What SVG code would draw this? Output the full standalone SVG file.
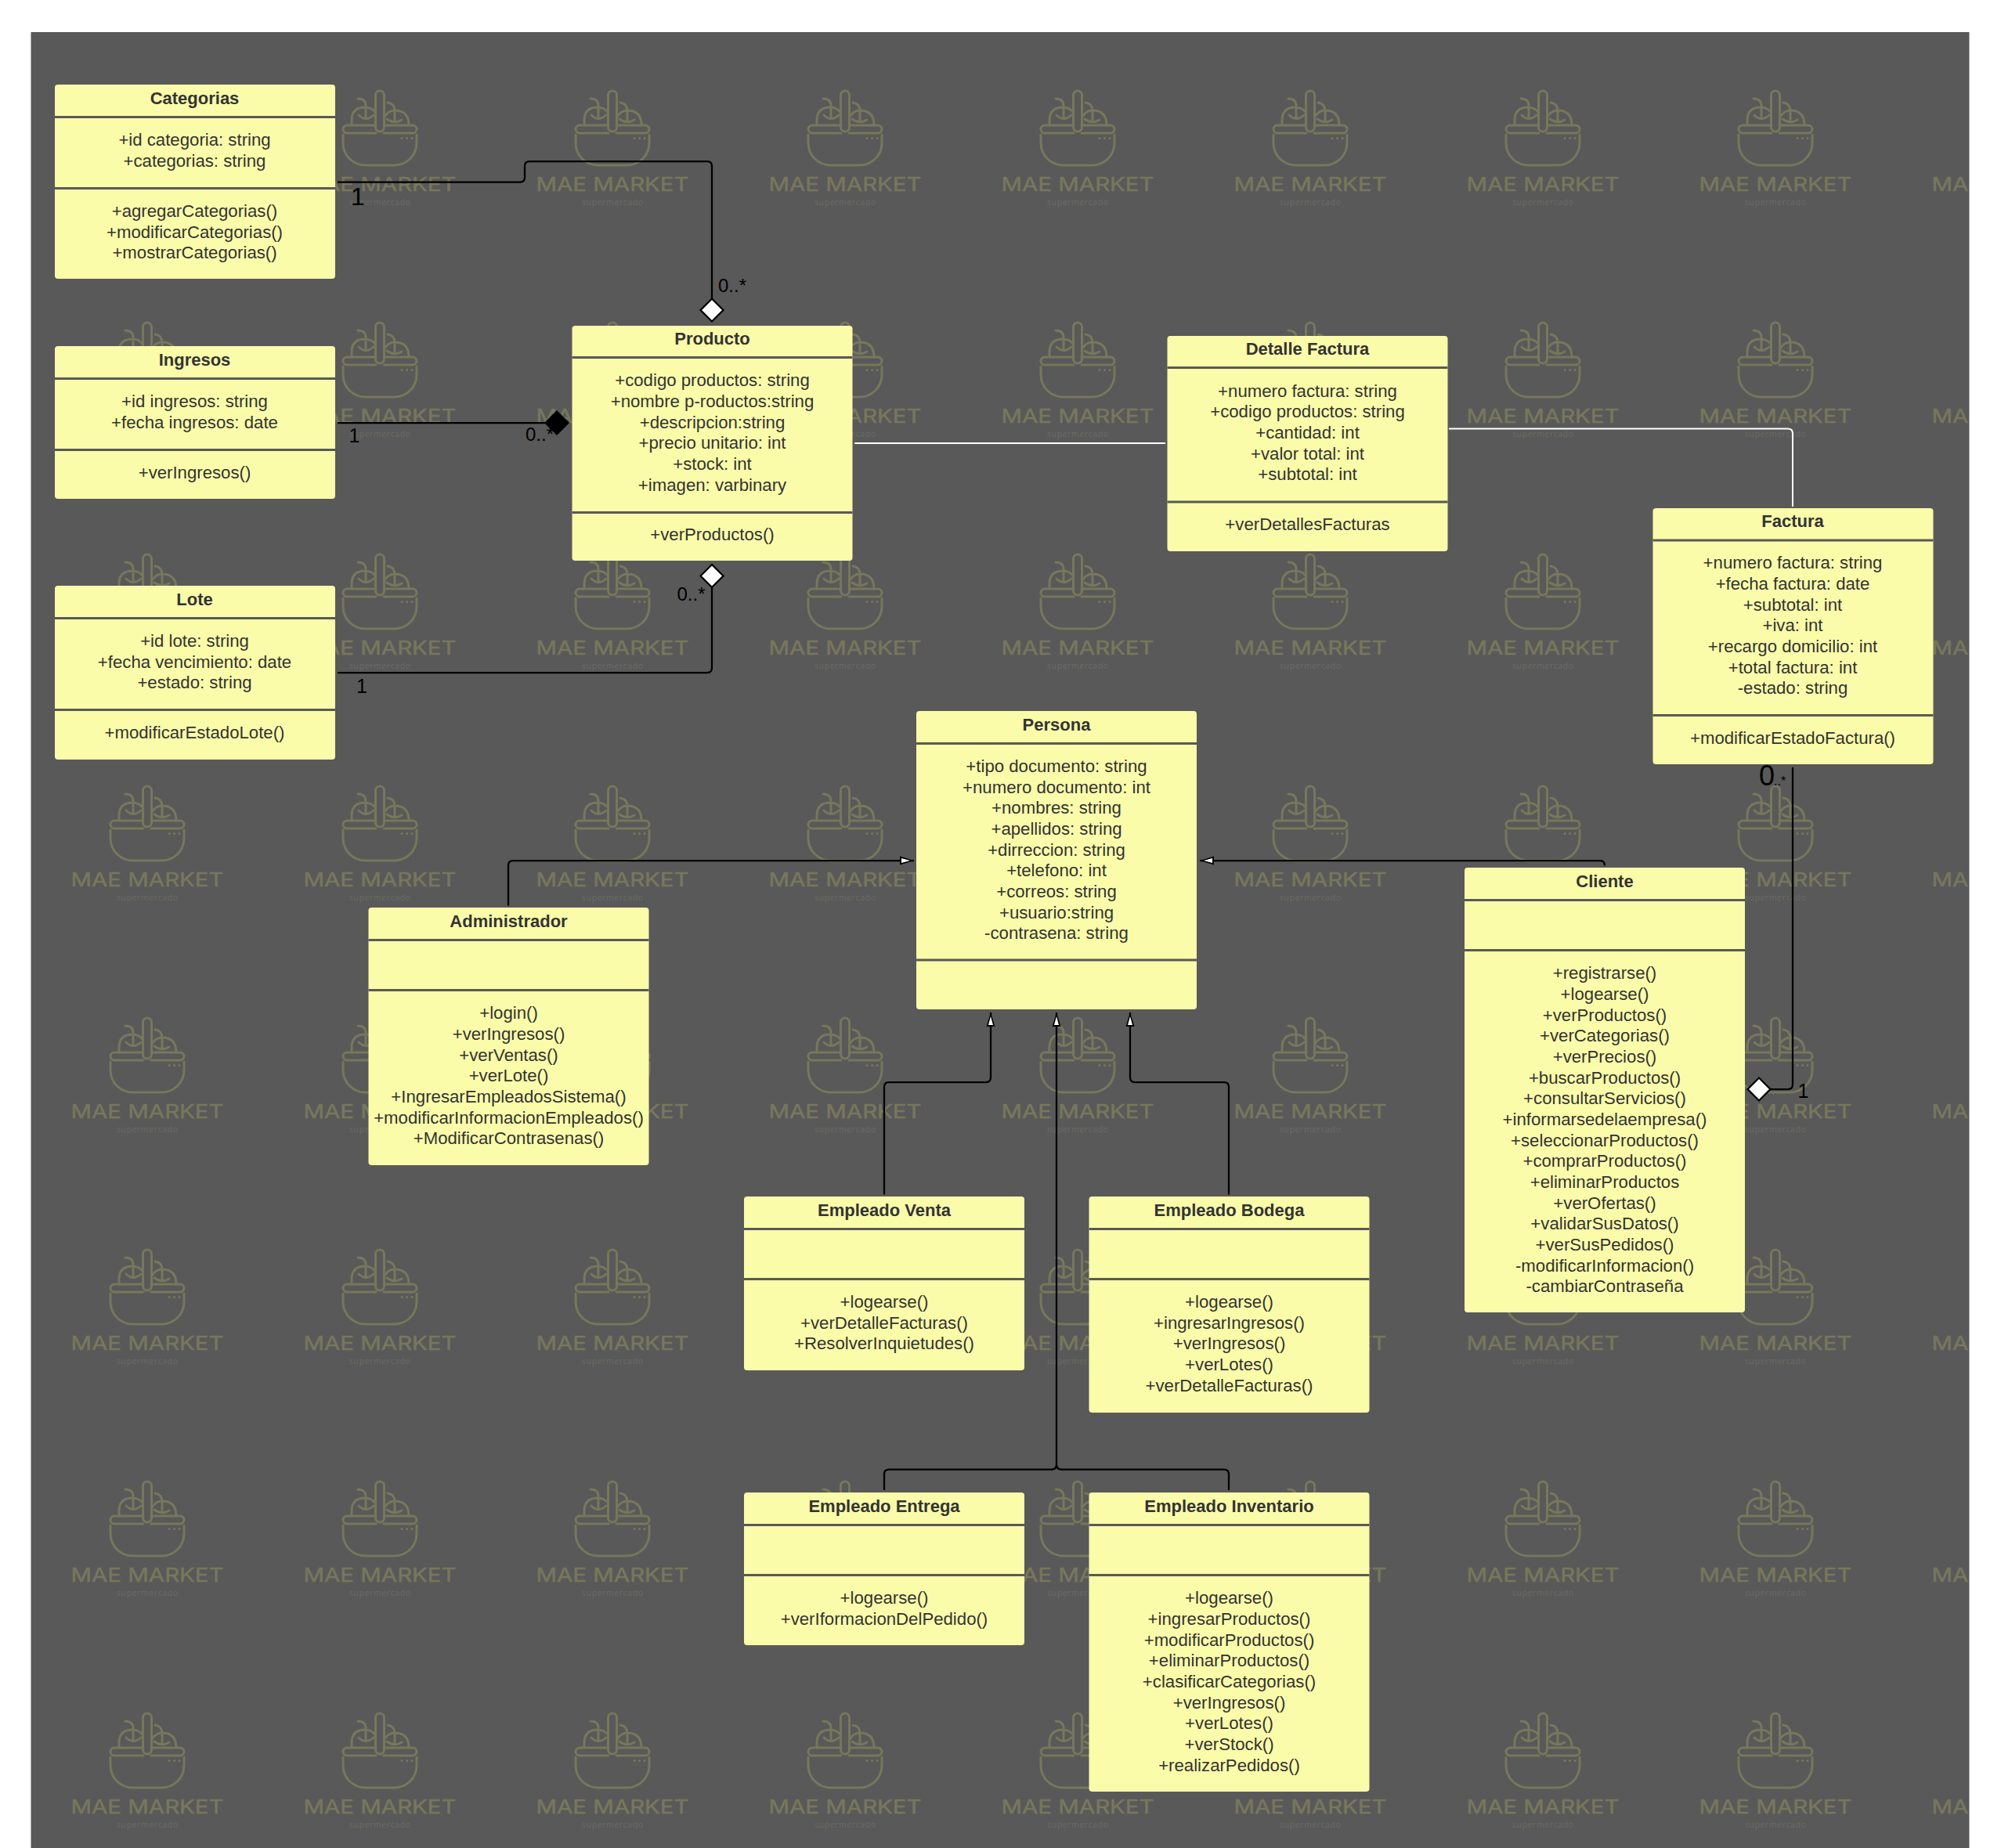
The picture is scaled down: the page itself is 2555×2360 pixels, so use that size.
<svg xmlns="http://www.w3.org/2000/svg" width="2555" height="2360" viewBox="0 0 2555 2360">
<style>
text{font-family:"Liberation Sans",Arial,sans-serif}
.b{fill:#fafca9;stroke:none}
.d{stroke:#595959;stroke-width:3;fill:none}
.t{font-size:22px;font-weight:bold;fill:#333;text-anchor:middle}
.a{font-size:22.2px;fill:#333;text-anchor:middle}
.c{fill:none;stroke:#000;stroke-width:2.25;stroke-linejoin:round}
.o{fill:#fff;stroke:#000;stroke-width:2.25}
.w{fill:none;stroke:#fff;stroke-width:2}
.l{fill:#000}
.wm{fill:none;stroke:#77775c;stroke-width:3;stroke-linecap:round;stroke-linejoin:round}
.wt{font-family:Inter,"Liberation Sans",sans-serif;font-size:24px;fill:#77775c;stroke:#77775c;stroke-width:.5;text-anchor:middle}
.ws{font-family:"Open Sans","Liberation Sans",sans-serif;font-size:10.5px;fill:#6b6b64;text-anchor:middle}
</style>
<defs>
<clipPath id="pc"><rect x="39.5" y="41" width="2475" height="2319"/></clipPath>
<g id="mark">
<rect class="wm" x="-5.500" y="0" width="11" height="52" rx="5.500"/>
<path class="wm" d="M-5 44H-42a5 5 0 0 0 0 10H-5M5 44H42a5 5 0 0 1 0 10H5"/>
<path class="wm" d="M-47 56V66C-47 84-33 95-18 95H18C33 95 47 84 47 66V56"/>
<path class="wm" d="M-36 44V38Q-36 21-19 21Q-11 21-6 27M-28 10Q-18 10-18 19V34M-27 31Q-18 40-8 31"/>
<path class="wm" d="M6 33Q11 25 19 25Q37 25 37 44M10 15Q19 16 19 26V39M9 36Q18 43 28 37"/>
<path class="wm" d="M28 60.500h.1M34.500 60.500h.1M41 60.500h.1"/>
<text class="wt" x="0" y="128" textLength="195" lengthAdjust="spacingAndGlyphs">MAE MARKET</text>
<text class="ws" x="0" y="145.500" textLength="78" lengthAdjust="spacing">supermercado</text>
</g>
<marker id="tri" markerUnits="userSpaceOnUse" markerWidth="18" markerHeight="14" refX="18" refY="7" orient="auto" viewBox="0 0 18 14"><path d="M0 1.500L18 7L0 12.500Z" fill="#000"/><path d="M2 4L13 7L2 10Z" fill="#fff"/></marker>
</defs>
<rect x="0" y="0" width="2555" height="2360" fill="#fff"/>
<rect x="39.500" y="41" width="2475" height="2319" fill="#595959"/>
<g id="watermarks" clip-path="url(#pc)">
<use href="#mark" x="188" y="116"/><use href="#mark" x="485" y="116"/><use href="#mark" x="782" y="116"/><use href="#mark" x="1079" y="116"/><use href="#mark" x="1376" y="116"/><use href="#mark" x="1673" y="116"/><use href="#mark" x="1970" y="116"/><use href="#mark" x="2267" y="116"/><use href="#mark" x="2564" y="116"/>
<use href="#mark" x="188" y="412"/><use href="#mark" x="485" y="412"/><use href="#mark" x="782" y="412"/><use href="#mark" x="1079" y="412"/><use href="#mark" x="1376" y="412"/><use href="#mark" x="1673" y="412"/><use href="#mark" x="1970" y="412"/><use href="#mark" x="2267" y="412"/><use href="#mark" x="2564" y="412"/>
<use href="#mark" x="188" y="708"/><use href="#mark" x="485" y="708"/><use href="#mark" x="782" y="708"/><use href="#mark" x="1079" y="708"/><use href="#mark" x="1376" y="708"/><use href="#mark" x="1673" y="708"/><use href="#mark" x="1970" y="708"/><use href="#mark" x="2267" y="708"/><use href="#mark" x="2564" y="708"/>
<use href="#mark" x="188" y="1004"/><use href="#mark" x="485" y="1004"/><use href="#mark" x="782" y="1004"/><use href="#mark" x="1079" y="1004"/><use href="#mark" x="1376" y="1004"/><use href="#mark" x="1673" y="1004"/><use href="#mark" x="1970" y="1004"/><use href="#mark" x="2267" y="1004"/><use href="#mark" x="2564" y="1004"/>
<use href="#mark" x="188" y="1300"/><use href="#mark" x="485" y="1300"/><use href="#mark" x="782" y="1300"/><use href="#mark" x="1079" y="1300"/><use href="#mark" x="1376" y="1300"/><use href="#mark" x="1673" y="1300"/><use href="#mark" x="1970" y="1300"/><use href="#mark" x="2267" y="1300"/><use href="#mark" x="2564" y="1300"/>
<use href="#mark" x="188" y="1596"/><use href="#mark" x="485" y="1596"/><use href="#mark" x="782" y="1596"/><use href="#mark" x="1079" y="1596"/><use href="#mark" x="1376" y="1596"/><use href="#mark" x="1673" y="1596"/><use href="#mark" x="1970" y="1596"/><use href="#mark" x="2267" y="1596"/><use href="#mark" x="2564" y="1596"/>
<use href="#mark" x="188" y="1892"/><use href="#mark" x="485" y="1892"/><use href="#mark" x="782" y="1892"/><use href="#mark" x="1079" y="1892"/><use href="#mark" x="1376" y="1892"/><use href="#mark" x="1673" y="1892"/><use href="#mark" x="1970" y="1892"/><use href="#mark" x="2267" y="1892"/><use href="#mark" x="2564" y="1892"/>
<use href="#mark" x="188" y="2188"/><use href="#mark" x="485" y="2188"/><use href="#mark" x="782" y="2188"/><use href="#mark" x="1079" y="2188"/><use href="#mark" x="1376" y="2188"/><use href="#mark" x="1673" y="2188"/><use href="#mark" x="1970" y="2188"/><use href="#mark" x="2267" y="2188"/><use href="#mark" x="2564" y="2188"/>
</g>
<g id="connectors">
<path class="c" d="M431 232.500H664Q670 232.500 670 226.500V212Q670 206 676 206H903Q909 206 909 212V382"/>
<path class="o" d="M909 381.500L923.500 396L909 410.500L894.500 396Z"/>
<path class="c" d="M431 540H697"/>
<path d="M711 524L727 540L711 556L695 540Z" fill="#000"/>
<path class="c" d="M431 859H903Q909 859 909 853V750"/>
<path class="o" d="M909 721L923.500 735.500L909 750L894.500 735.500Z"/>
<path class="w" d="M1091 566H1488"/>
<path class="w" d="M1850 547.500H2283Q2289 547.500 2289 553.500V647"/>
<path class="c" d="M2289 980V1385Q2289 1391 2283 1391H2260"/>
<path class="o" d="M2246 1376.500L2260.500 1391L2246 1405.500L2231.500 1391Z"/>
<path class="c" marker-end="url(#tri)" d="M649 1156.500V1105Q649 1099 655 1099H1167"/>
<path class="c" marker-end="url(#tri)" d="M2049 1105.500Q2049 1099 2043 1099H1532"/>
<path class="c" marker-end="url(#tri)" d="M1129 1525.500V1388Q1129 1382 1135 1382H1259Q1265 1382 1265 1376V1293"/>
<path class="c" marker-end="url(#tri)" d="M1569 1525.500V1388Q1569 1382 1563 1382H1449Q1443 1382 1443 1376V1293"/>
<path class="c" marker-end="url(#tri)" d="M1349 1870V1293"/>
<path class="c" d="M1129 1903V1882.500Q1129 1876.500 1135 1876.500H1343Q1349 1876.500 1349 1870Q1349 1876.500 1355 1876.500H1563Q1569 1876.500 1569 1882.500V1903"/>
<text class="l" x="448" y="262" font-size="32">1</text>
<text class="l" x="917" y="373" font-size="24">0..*</text>
<text class="l" x="445.500" y="565" font-size="25">1</text>
<text class="l" x="671" y="563" font-size="24">0..*</text>
<text class="l" x="455" y="884.500" font-size="25">1</text>
<text class="l" x="864.500" y="767" font-size="24">0..*</text>
<text class="l" x="2246" y="1003" font-size="36">0</text>
<text class="l" x="2265" y="1003" font-size="16">..*</text>
<text class="l" x="2295.500" y="1402" font-size="25">1</text>
</g>
<g id="categorias"><rect class="b" x="70" y="108" width="358" height="248" rx="4"/><path class="d" d="M70 149.500H428M70 240.500H428"/>
<text class="t" x="248.500" y="133">Categorias</text>
<text class="a" x="248.500" y="186">+id categoria: string</text><text class="a" x="248.500" y="213">+categorias: string</text>
<text class="a" x="248.500" y="277">+agregarCategorias()</text><text class="a" x="248.500" y="304">+modificarCategorias()</text><text class="a" x="248.500" y="330">+mostrarCategorias()</text></g>
<g id="ingresos"><rect class="b" x="70" y="442" width="358" height="195" rx="4"/><path class="d" d="M70 483.500H428M70 574.500H428"/>
<text class="t" x="248.500" y="467">Ingresos</text>
<text class="a" x="248.500" y="520">+id ingresos: string</text><text class="a" x="248.500" y="547">+fecha ingresos: date</text>
<text class="a" x="248.500" y="611">+verIngresos()</text></g>
<g id="lote"><rect class="b" x="70" y="748" width="358" height="222" rx="4"/><path class="d" d="M70 789.500H428M70 906.500H428"/>
<text class="t" x="248.500" y="773">Lote</text>
<text class="a" x="248.500" y="826">+id lote: string</text><text class="a" x="248.500" y="853">+fecha vencimiento: date</text><text class="a" x="248.500" y="879">+estado: string</text>
<text class="a" x="248.500" y="943">+modificarEstadoLote()</text></g>
<g id="producto"><rect class="b" x="730.500" y="416" width="358" height="300" rx="4"/><path class="d" d="M730.500 456.500H1088.500M730.500 654.500H1088.500"/>
<text class="t" x="909.500" y="440">Producto</text>
<text class="a" x="909.500" y="493">+codigo productos: string</text><text class="a" x="909.500" y="520">+nombre p-roductos:string</text><text class="a" x="909.500" y="546.500">+descripcion:string</text><text class="a" x="909.500" y="573">+precio unitario: int</text><text class="a" x="909.500" y="600">+stock: int</text><text class="a" x="909.500" y="626.500">+imagen: varbinary</text>
<text class="a" x="909.500" y="690">+verProductos()</text></g>
<g id="detalle-factura"><rect class="b" x="1490.500" y="429" width="358" height="275" rx="4"/><path class="d" d="M1490.500 469.500H1848.500M1490.500 641H1848.500"/>
<text class="t" x="1669.500" y="453">Detalle Factura</text>
<text class="a" x="1669.500" y="506.500">+numero factura: string</text><text class="a" x="1669.500" y="533">+codigo productos: string</text><text class="a" x="1669.500" y="560">+cantidad: int</text><text class="a" x="1669.500" y="586.500">+valor total: int</text><text class="a" x="1669.500" y="613">+subtotal: int</text>
<text class="a" x="1669.500" y="677">+verDetallesFacturas</text></g>
<g id="factura"><rect class="b" x="2110.500" y="649" width="358" height="327" rx="4"/><path class="d" d="M2110.500 690H2468.500M2110.500 913.500H2468.500"/>
<text class="t" x="2289" y="673">Factura</text>
<text class="a" x="2289" y="726">+numero factura: string</text><text class="a" x="2289" y="753">+fecha factura: date</text><text class="a" x="2289" y="780">+subtotal: int</text><text class="a" x="2289" y="806">+iva: int</text><text class="a" x="2289" y="833">+recargo domicilio: int</text><text class="a" x="2289" y="860">+total factura: int</text><text class="a" x="2289" y="886">-estado: string</text>
<text class="a" x="2289" y="950">+modificarEstadoFactura()</text></g>
<g id="persona"><rect class="b" x="1170" y="908" width="358" height="381" rx="4"/><path class="d" d="M1170 949.500H1528M1170 1226H1528"/>
<text class="t" x="1349" y="933">Persona</text>
<text class="a" x="1349" y="986">+tipo documento: string</text><text class="a" x="1349" y="1012.700">+numero documento: int</text><text class="a" x="1349" y="1039.300">+nombres: string</text><text class="a" x="1349" y="1066">+apellidos: string</text><text class="a" x="1349" y="1092.700">+dirreccion: string</text><text class="a" x="1349" y="1119.300">+telefono: int</text><text class="a" x="1349" y="1146">+correos: string</text><text class="a" x="1349" y="1172.700">+usuario:string</text><text class="a" x="1349" y="1199.300">-contrasena: string</text></g>
<g id="administrador"><rect class="b" x="470.500" y="1159" width="358" height="329" rx="4"/><path class="d" d="M470.500 1200.500H828.500M470.500 1264.500H828.500"/>
<text class="t" x="649.500" y="1184">Administrador</text>
<text class="a" x="649.500" y="1301">+login()</text><text class="a" x="649.500" y="1328">+verIngresos()</text><text class="a" x="649.500" y="1355">+verVentas()</text><text class="a" x="649.500" y="1381">+verLote()</text><text class="a" x="649.500" y="1408">+IngresarEmpleadosSistema()</text><text class="a" x="649.500" y="1435">+modificarInformacionEmpleados()</text><text class="a" x="649.500" y="1461">+ModificarContrasenas()</text></g>
<g id="cliente"><rect class="b" x="1870" y="1108" width="358" height="568" rx="4"/><path class="d" d="M1870 1149.500H2228M1870 1213.500H2228"/>
<text class="t" x="2049" y="1133">Cliente</text>
<text class="a" x="2049" y="1250">+registrarse()</text><text class="a" x="2049" y="1277">+logearse()</text><text class="a" x="2049" y="1304">+verProductos()</text><text class="a" x="2049" y="1330">+verCategorias()</text><text class="a" x="2049" y="1357">+verPrecios()</text><text class="a" x="2049" y="1384">+buscarProductos()</text><text class="a" x="2049" y="1410">+consultarServicios()</text><text class="a" x="2049" y="1437">+informarsedelaempresa()</text><text class="a" x="2049" y="1464">+seleccionarProductos()</text><text class="a" x="2049" y="1490">+comprarProductos()</text><text class="a" x="2049" y="1517">+eliminarProductos</text><text class="a" x="2049" y="1544">+verOfertas()</text><text class="a" x="2049" y="1570">+validarSusDatos()</text><text class="a" x="2049" y="1597">+verSusPedidos()</text><text class="a" x="2049" y="1624">-modificarInformacion()</text><text class="a" x="2049" y="1650">-cambiarContraseña</text></g>
<g id="empleado-venta"><rect class="b" x="950" y="1528" width="358" height="222" rx="4"/><path class="d" d="M950 1569.500H1308M950 1633.500H1308"/>
<text class="t" x="1129" y="1553">Empleado Venta</text>
<text class="a" x="1129" y="1670">+logearse()</text><text class="a" x="1129" y="1697">+verDetalleFacturas()</text><text class="a" x="1129" y="1723">+ResolverInquietudes()</text></g>
<g id="empleado-bodega"><rect class="b" x="1390.500" y="1528" width="358" height="276" rx="4"/><path class="d" d="M1390.500 1569.500H1748.500M1390.500 1633.500H1748.500"/>
<text class="t" x="1569.500" y="1553">Empleado Bodega</text>
<text class="a" x="1569.500" y="1670">+logearse()</text><text class="a" x="1569.500" y="1697">+ingresarIngresos()</text><text class="a" x="1569.500" y="1723">+verIngresos()</text><text class="a" x="1569.500" y="1750">+verLotes()</text><text class="a" x="1569.500" y="1777">+verDetalleFacturas()</text></g>
<g id="empleado-entrega"><rect class="b" x="950" y="1906" width="358" height="195" rx="4"/><path class="d" d="M950 1947.500H1308M950 2011.500H1308"/>
<text class="t" x="1129" y="1931">Empleado Entrega</text>
<text class="a" x="1129" y="2048">+logearse()</text><text class="a" x="1129" y="2075">+verIformacionDelPedido()</text></g>
<g id="empleado-inventario"><rect class="b" x="1390.500" y="1906" width="358" height="382" rx="4"/><path class="d" d="M1390.500 1947.500H1748.500M1390.500 2011.500H1748.500"/>
<text class="t" x="1569.500" y="1931">Empleado Inventario</text>
<text class="a" x="1569.500" y="2048">+logearse()</text><text class="a" x="1569.500" y="2075">+ingresarProductos()</text><text class="a" x="1569.500" y="2102">+modificarProductos()</text><text class="a" x="1569.500" y="2128">+eliminarProductos()</text><text class="a" x="1569.500" y="2155">+clasificarCategorias()</text><text class="a" x="1569.500" y="2182">+verIngresos()</text><text class="a" x="1569.500" y="2208">+verLotes()</text><text class="a" x="1569.500" y="2235">+verStock()</text><text class="a" x="1569.500" y="2262">+realizarPedidos()</text></g>
</svg>
